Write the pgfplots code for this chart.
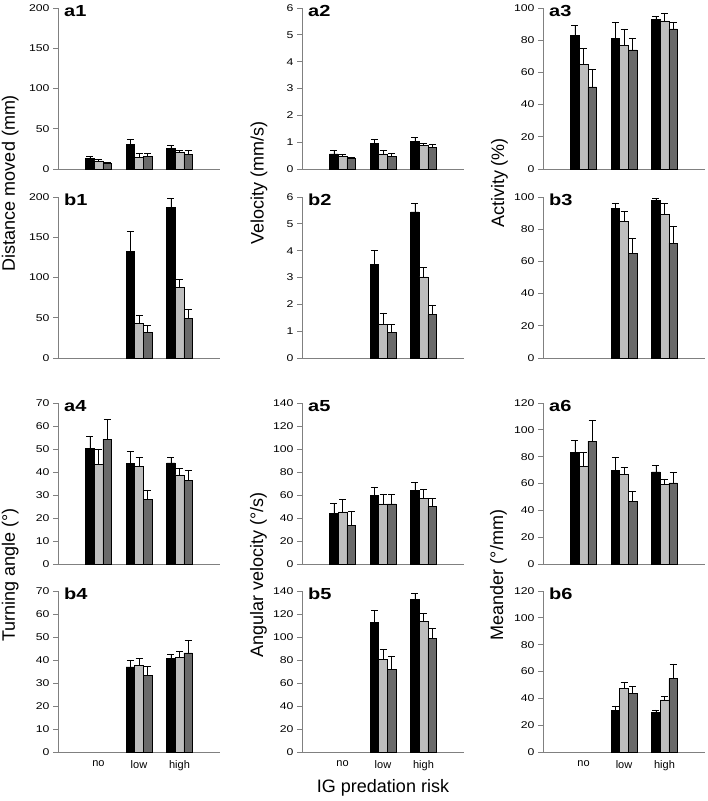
\documentclass[border=0pt]{standalone}
\usepackage{pgfplots}
\pgfplotsset{compat=1.18}
\usepackage{pgfplotstable}
\usepackage{fontspec}
\setmainfont{Liberation Sans}
\newfontfamily\stretchfont[FakeStretch=1.25]{Liberation Sans}
\definecolor{lightg}{HTML}{BEBEBE}
\definecolor{darkg}{HTML}{6A6A6A}
\definecolor{axgray}{HTML}{808080}

% columns: x, black (a) +err, light (b) +err, dark (c) +err
\pgfplotstableread{
x a ea b eb c ec
1 13.2 2.8 10 2.4 7 1
2 30.6 6.2 14.5 5 15.3 3.7
3 25.7 3.3 20.7 2.1 18.6 4.2
}\tAone
\pgfplotstableread{
x a ea b eb c ec
2 132.2 25 42.8 10.8 32 8
3 187.5 11.3 87.7 10.4 49.5 10.8
}\tBone
\pgfplotstableread{
x a ea b eb c ec
1 0.56 0.12 0.48 0.07 0.40 0.05
2 0.96 0.14 0.56 0.12 0.48 0.10
3 1.02 0.15 0.87 0.09 0.81 0.12
}\tAtwo
\pgfplotstableread{
x a ea b eb c ec
2 3.49 0.52 1.26 0.42 0.96 0.30
3 5.45 0.31 3.02 0.35 1.62 0.36
}\tBtwo
\pgfplotstableread{
x a ea b eb c ec
1 83.2 5.8 65 9.7 51 11
2 81 10 77 10 74 7
3 93 2 92 5 87 4
}\tAthree
\pgfplotstableread{
x a ea b eb c ec
2 93.1 3.2 85 6 65 9.2
3 98.1 0.9 89.2 6.8 71.3 10.7
}\tBthree
\pgfplotstableread{
x a ea b eb c ec
1 50.3 5.4 43.4 6.6 54.2 8.5
2 43.9 5.1 42.5 3.7 28 4.2
3 44 2.6 38.7 2.7 36.3 4.5
}\tAfour
\pgfplotstableread{
x a ea b eb c ec
2 37 3 37.6 3.1 33.4 3.8
3 40.8 1.5 41 2.6 43.1 5.3
}\tBfour
\pgfplotstableread{
x a ea b eb c ec
1 44.1 8.8 45.3 11.1 33.6 12
2 59.4 7.6 52.3 8.2 52.3 8.2
3 63.7 7.1 57.3 7.3 50.3 7
}\tAfive
\pgfplotstableread{
x a ea b eb c ec
2 112.4 10.7 80.5 8.7 71.7 11.9
3 132.7 5.3 113.9 6.3 98.5 9.3
}\tBfive
\pgfplotstableread{
x a ea b eb c ec
1 83.1 9.2 72.6 11 91.6 15.7
2 69.6 9.7 66.6 5.5 46.7 7.2
3 68.6 5 59.6 3.8 60.4 8
}\tAsix
\pgfplotstableread{
x a ea b eb c ec
2 30.9 3.5 47.4 4.2 43.9 5
3 29.4 2 38.9 2.5 54.6 11
}\tBsix

\pgfplotsset{
  panel/.style={
    scale only axis, width=162pt, height=161pt,
    xmin=0, xmax=4, ymin=0,
    axis x line*=bottom, axis y line*=left,
    axis line style={axgray, line width=0.8pt},
    xtick=\empty,
    tick align=outside, major tick length=5pt,
    ytick style={axgray, line width=0.8pt},
    yticklabel style={font=\stretchfont\fontsize{9.8}{10}\selectfont},
    /pgf/number format/assume math mode=true,
    ybar=0pt, bar width=8.6pt,
    clip=false,
    error bars/y dir=plus, error bars/y explicit,
    error bars/error mark=|,
    error bars/error bar style={black, line width=0.6pt},
    error bars/error mark options={black, mark size=3.5pt, line width=0.6pt},
  },
  bottomrow/.style={xtick={1,2,3}, xticklabels={no,low,high}, xtick style={draw=none},
    xticklabel style={font=\fontsize{11}{12}\selectfont}},
}
\newcommand{\bars}[1]{%
  \addplot[draw=black, line width=0.5pt, fill=black] table[x=x,y=a,y error plus=ea]{#1};
  \addplot[draw=black, line width=0.5pt, fill=lightg] table[x=x,y=b,y error plus=eb]{#1};
  \addplot[draw=black, line width=0.5pt, fill=darkg] table[x=x,y=c,y error plus=ec]{#1};
}
\newcommand{\plabel}[1]{\node[anchor=base west, font=\stretchfont\bfseries\fontsize{16}{16}\selectfont, inner sep=0pt] at ([xshift=6pt,yshift=-8.7pt]rel axis cs:0,1) {#1};}

\begin{document}
\begin{tikzpicture}[x=1pt,y=1pt]
\path[use as bounding box] (0,0) rectangle (708,801);

% Row 1
\begin{axis}[panel, at={(58pt,632pt)}, anchor=south west, ymax=200, ytick={0,50,...,200}]
\bars{\tAone}
\plabel{a1}
\end{axis}
\begin{axis}[panel, at={(302pt,632pt)}, anchor=south west, ymax=6, ytick={0,1,...,6}]
\bars{\tAtwo}
\plabel{a2}
\end{axis}
\begin{axis}[panel, at={(543pt,632pt)}, anchor=south west, ymax=100, ytick={0,20,...,100}]
\bars{\tAthree}
\plabel{a3}
\end{axis}

% Row 2
\begin{axis}[panel, at={(58pt,443pt)}, anchor=south west, ymax=200, ytick={0,50,...,200}]
\bars{\tBone}
\plabel{b1}
\end{axis}
\begin{axis}[panel, at={(302pt,443pt)}, anchor=south west, ymax=6, ytick={0,1,...,6}]
\bars{\tBtwo}
\plabel{b2}
\end{axis}
\begin{axis}[panel, at={(543pt,443pt)}, anchor=south west, ymax=100, ytick={0,20,...,100}]
\bars{\tBthree}
\plabel{b3}
\end{axis}

% Row 3
\begin{axis}[panel, at={(58pt,237pt)}, anchor=south west, ymax=70, ytick={0,10,...,70}]
\bars{\tAfour}
\plabel{a4}
\end{axis}
\begin{axis}[panel, at={(302pt,237pt)}, anchor=south west, ymax=140, ytick={0,20,...,140}]
\bars{\tAfive}
\plabel{a5}
\end{axis}
\begin{axis}[panel, at={(543pt,237pt)}, anchor=south west, ymax=120, ytick={0,20,...,120}]
\bars{\tAsix}
\plabel{a6}
\end{axis}

% Row 4
\begin{axis}[panel, bottomrow, at={(58pt,49pt)}, anchor=south west, ymax=70, ytick={0,10,...,70}]
\bars{\tBfour}
\plabel{b4}
\end{axis}
\begin{axis}[panel, bottomrow, at={(302pt,49pt)}, anchor=south west, ymax=140, ytick={0,20,...,140}]
\bars{\tBfive}
\plabel{b5}
\end{axis}
\begin{axis}[panel, bottomrow, at={(543pt,49pt)}, anchor=south west, ymax=120, ytick={0,20,...,120}]
\bars{\tBsix}
\plabel{b6}
\end{axis}

% Axis titles
\begin{scope}[every node/.style={font=\fontsize{18}{18}\selectfont, rotate=90, anchor=base, inner sep=0pt}]
\node at (15,618) {Distance moved (mm)};
\node at (263.5,618) {Velocity (mm/s)};
\node at (504,618) {Activity (\%)};
\node at (15,226) {Turning angle (°)};
\node at (263,226) {Angular velocity (°/s)};
\node at (503,226) {Meander (°/mm)};
\end{scope}
\node[font=\fontsize{18}{18}\selectfont, anchor=base, inner sep=0pt] at (383,9) {IG predation risk};
\end{tikzpicture}
\end{document}
